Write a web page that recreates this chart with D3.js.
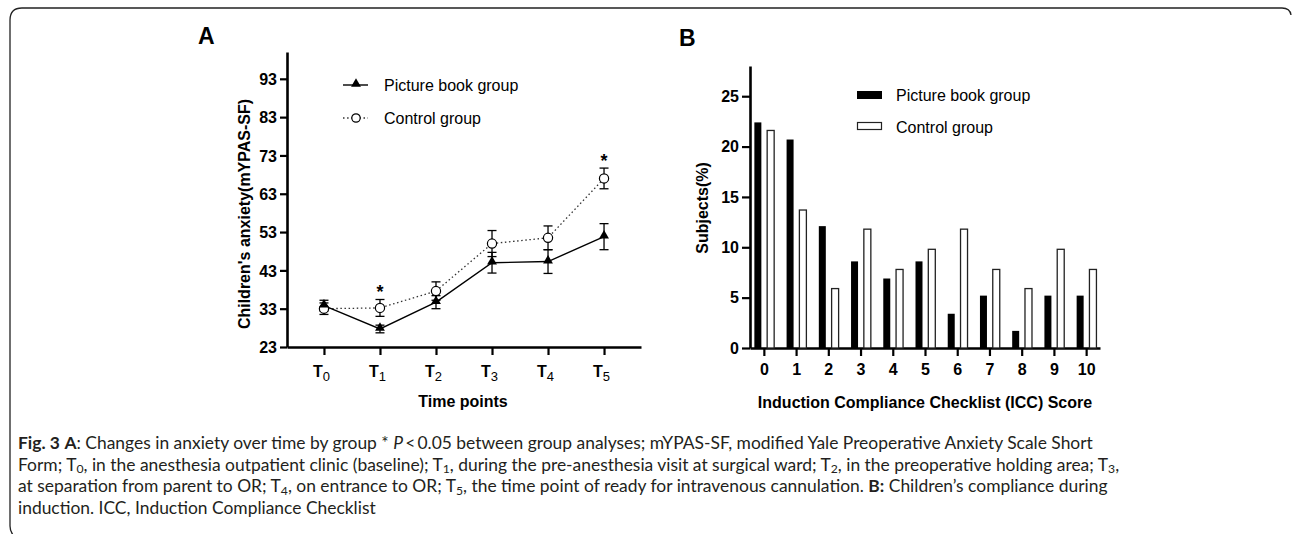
<!DOCTYPE html>
<html>
<head>
<meta charset="utf-8">
<script src="https://cdn.jsdelivr.net/npm/d3@7"></script>
<style>
  body { margin: 0; background: #fff; }
  svg text { font-family: "Liberation Sans", Arial, sans-serif; }
  .axis path, .axis line { stroke: #000; }
  .cap { font-family: Lato, "Open Sans", sans-serif !important; fill: #231f20; }
</style>
</head>
<body>
<div id="chart"></div>
<script>
var width = 1292;
var height = 534;

// ---- panel A data (mean and error per time point)
var timePoints = ["0", "1", "2", "3", "4", "5"];
var bookMean = [33.8, 27.7, 34.7, 45.0, 45.3, 51.8];
var bookErr  = [1.4, 1.0, 1.7, 2.7, 3.1, 3.4];
var ctrlMean = [33.0, 33.2, 37.6, 50.0, 51.5, 67.0];
var ctrlErr  = [1.5, 2.2, 2.4, 3.4, 3.1, 2.7];
var sigPoints = [1, 5];
var yTicksA = [23, 33, 43, 53, 63, 73, 83, 93];

// ---- panel B data (% of subjects per ICC score)
var iccScores = ["0", "1", "2", "3", "4", "5", "6", "7", "8", "9", "10"];
var bookPct = [22.4, 20.7, 12.1, 8.6, 6.9, 8.6, 3.4, 5.2, 1.7, 5.2, 5.2];
var ctrlPct = [21.6, 13.7, 5.9, 11.8, 7.8, 9.8, 11.8, 7.8, 5.9, 9.8, 7.8];
var yTicksB = [0, 5, 10, 15, 20, 25];

var legendNames = ["Picture book group", "Control group"];

var svg = d3.select("#chart")
            .append("svg")
            .attr("width", width)
            .attr("height", height);

// frame around figure
svg.append("path")
   .attr("d", "M1291,15 Q1290,8 1282,8 L22,8 Q10,8 10,20 L10,526 Q10,532 14,536")
   .attr("fill", "none")
   .attr("stroke", "#222")
   .attr("stroke-width", 1.3);

// ================= panel A =================
var gA = svg.append("g");

var xA = d3.scalePoint().domain(timePoints).range([287, 641]).padding(0.66);
var yA = d3.scaleLinear().domain([23, 100]).range([347, 52]);

gA.append("text").attr("x", 198).attr("y", 44)
  .attr("font-size", 23).attr("font-weight", "bold").text("A");

var axYA = gA.append("g").attr("class", "axis")
  .attr("transform", "translate(287,0)")
  .call(d3.axisLeft(yA).tickValues(yTicksA).tickSize(7).tickSizeOuter(0).tickPadding(3));
var axXA = gA.append("g").attr("class", "axis")
  .attr("transform", "translate(0,347)")
  .call(d3.axisBottom(xA).tickSize(8).tickSizeOuter(0).tickPadding(10));

[axYA, axXA].forEach(function(ax){
  ax.select(".domain").attr("stroke-width", 2.6);
  ax.selectAll(".tick line").attr("stroke-width", 2.2);
  ax.selectAll(".tick text").attr("font-size", 16).attr("font-weight", "bold")
    .attr("fill", "#000").attr("font-family", "Liberation Sans, Arial");
});
axYA.selectAll(".tick text").attr("dy", "0.36em");

// T with subscript on x ticks
axXA.selectAll(".tick text").each(function(d){
  var t = d3.select(this);
  t.text("").attr("dy", null).attr("y", 30).attr("dx", "-3");
  t.append("tspan").text("T");
  t.append("tspan").attr("dy", 4).attr("font-size", 13).attr("font-weight", "normal").text(d);
});

gA.append("text")
  .attr("transform", "translate(250,214) rotate(-90)")
  .attr("text-anchor", "middle")
  .attr("font-size", 16).attr("font-weight", "bold")
  .text("Children's anxiety(mYPAS-SF)");

gA.append("text").attr("x", 463).attr("y", 407)
  .attr("text-anchor", "middle").attr("font-size", 16).attr("font-weight", "bold")
  .text("Time points");

var line = d3.line()
  .x(function(d, i){ return xA(timePoints[i]); })
  .y(function(d){ return yA(d); });

// error bars
function errBars(means, errs){
  var g = gA.append("g").attr("stroke", "#000").attr("stroke-width", 1.3);
  means.forEach(function(m, i){
    var x = xA(timePoints[i]);
    var y1 = yA(m + errs[i]), y2 = yA(m - errs[i]);
    g.append("line").attr("x1", x).attr("x2", x).attr("y1", y1).attr("y2", y2);
    g.append("line").attr("x1", x - 4.5).attr("x2", x + 4.5).attr("y1", y1).attr("y2", y1);
    g.append("line").attr("x1", x - 4.5).attr("x2", x + 4.5).attr("y1", y2).attr("y2", y2);
  });
}
errBars(ctrlMean, ctrlErr);
errBars(bookMean, bookErr);

gA.append("path").datum(ctrlMean)
  .attr("d", line).attr("fill", "none")
  .attr("stroke", "#333").attr("stroke-width", 1.3).attr("stroke-dasharray", "1.5,2.6");
gA.append("path").datum(bookMean)
  .attr("d", line).attr("fill", "none")
  .attr("stroke", "#000").attr("stroke-width", 1.4);

var tri = d3.symbol().type(d3.symbolTriangle).size(42);

gA.selectAll(".ctrlPt").data(ctrlMean).enter()
  .append("circle")
  .attr("cx", function(d, i){ return xA(timePoints[i]); })
  .attr("cy", function(d){ return yA(d); })
  .attr("r", 4.6).attr("fill", "#fff").attr("stroke", "#000").attr("stroke-width", 1.2);

gA.selectAll(".bookPt").data(bookMean).enter()
  .append("path")
  .attr("d", tri)
  .attr("transform", function(d, i){ return "translate(" + xA(timePoints[i]) + "," + (yA(d) - 1) + ")"; })
  .attr("fill", "#000");

sigPoints.forEach(function(i){
  gA.append("text")
    .attr("x", xA(timePoints[i])).attr("y", yA(ctrlMean[i] + ctrlErr[i]) - 1)
    .attr("text-anchor", "middle").attr("font-size", 18).attr("font-weight", "bold")
    .text("*");
});

// legend A
var legA = gA.append("g");
legA.append("line").attr("x1", 343).attr("x2", 368).attr("y1", 85).attr("y2", 85)
  .attr("stroke", "#000").attr("stroke-width", 1.4);
legA.append("path").attr("d", tri).attr("transform", "translate(356,84)");
legA.append("line").attr("x1", 343).attr("x2", 368).attr("y1", 118).attr("y2", 118)
  .attr("stroke", "#333").attr("stroke-width", 1.3).attr("stroke-dasharray", "1.5,2.6");
legA.append("circle").attr("cx", 356).attr("cy", 118).attr("r", 4.2)
  .attr("fill", "#fff").attr("stroke", "#000").attr("stroke-width", 1.2);
legendNames.forEach(function(n, i){
  legA.append("text").attr("x", 384).attr("y", 91 + i * 33)
    .attr("font-size", 16).text(n);
});

// ================= panel B =================
var gB = svg.append("g");

var xB = d3.scalePoint().domain(iccScores).range([750, 1100]).padding(0.43);
var yB = d3.scaleLinear().domain([0, 28]).range([348, 66]);

gB.append("text").attr("x", 679).attr("y", 46)
  .attr("font-size", 23).attr("font-weight", "bold").text("B");

var axYB = gB.append("g").attr("class", "axis")
  .attr("transform", "translate(750,0)")
  .call(d3.axisLeft(yB).tickValues(yTicksB).tickSize(8).tickSizeOuter(0).tickPadding(3));
var axXB = gB.append("g").attr("class", "axis")
  .attr("transform", "translate(0,348)")
  .call(d3.axisBottom(xB).tickSize(8).tickSizeOuter(0).tickPadding(8));

[axYB, axXB].forEach(function(ax){
  ax.select(".domain").attr("stroke-width", 2.6);
  ax.selectAll(".tick line").attr("stroke-width", 2.2);
  ax.selectAll(".tick text").attr("font-size", 16).attr("font-weight", "bold")
    .attr("fill", "#000").attr("font-family", "Liberation Sans, Arial");
});

gB.append("text")
  .attr("transform", "translate(708,208) rotate(-90)")
  .attr("text-anchor", "middle")
  .attr("font-size", 16).attr("font-weight", "bold")
  .text("Subjects(%)");

gB.append("text").attr("x", 925).attr("y", 408)
  .attr("text-anchor", "middle").attr("font-size", 16).attr("font-weight", "bold")
  .text("Induction Compliance Checklist (ICC) Score");

var barW = 7;
gB.selectAll(".bookBar").data(bookPct).enter()
  .append("rect")
  .attr("x", function(d, i){ return xB(iccScores[i]) - 9.5; })
  .attr("y", function(d){ return yB(d); })
  .attr("width", barW)
  .attr("height", function(d){ return yB(0) - yB(d); })
  .attr("fill", "#000");

gB.selectAll(".ctrlBar").data(ctrlPct).enter()
  .append("rect")
  .attr("x", function(d, i){ return xB(iccScores[i]) + 3.3; })
  .attr("y", function(d){ return yB(d); })
  .attr("width", barW)
  .attr("height", function(d){ return yB(0) - yB(d); })
  .attr("fill", "#fff").attr("stroke", "#222").attr("stroke-width", 1.3);

// legend B
gB.append("rect").attr("x", 857).attr("y", 91).attr("width", 25).attr("height", 8).attr("fill", "#000");
gB.append("rect").attr("x", 857.5).attr("y", 122.5).attr("width", 24).attr("height", 7)
  .attr("fill", "#fff").attr("stroke", "#222").attr("stroke-width", 1.2);
legendNames.forEach(function(n, i){
  gB.append("text").attr("x", 896).attr("y", 101 + i * 32)
    .attr("font-size", 16).text(n);
});

// ================= caption =================
var capLines = [
  { y: 449, len: 1092, parts: [
    {t: "Fig. 3", b: 1}, {t: "  "}, {t: "A", b: 1},
    {t: ": Changes in anxiety over time by group * "}, {t: "P", i: 1},
    {t: "\u2009<\u20090.05 between group analyses; mYPAS-SF, modified Yale Preoperative Anxiety Scale Short"}]},
  { y: 470.5, len: 1102, parts: [
    {t: "Form; T"}, {t: "0", s: 1}, {t: ", in the anesthesia outpatient clinic (baseline); T"}, {t: "1", s: 1},
    {t: ", during the pre-anesthesia visit at surgical ward; T"}, {t: "2", s: 1},
    {t: ", in the preoperative holding area; T"}, {t: "3", s: 1}, {t: ","}]},
  { y: 492, len: 1092, parts: [
    {t: "at separation from parent to OR; T"}, {t: "4", s: 1}, {t: ", on entrance to OR; T"}, {t: "5", s: 1},
    {t: ", the time point of ready for intravenous cannulation. "}, {t: "B:", b: 1},
    {t: " Children\u2019s compliance during"}]},
  { y: 513.5, len: 323, parts: [
    {t: "induction. ICC, Induction Compliance Checklist"}]}
];

// one font size for the caption, fitted so the full lines keep their width
var base = 18;
var capTexts = capLines.map(function(l){
  var t = svg.append("text").attr("class", "cap")
    .attr("x", 18).attr("y", l.y).attr("font-size", base);
  var sub = false;
  l.parts.forEach(function(p){
    var s = t.append("tspan").text(p.t);
    if (p.b) s.attr("font-weight", "bold");
    if (p.i) s.attr("font-style", "italic");
    if (p.s) { s.attr("dy", "0.22em").attr("font-size", "0.7em"); sub = true; }
    else if (sub) { s.attr("dy", "-0.154em"); sub = false; }
  });
  return t;
});
var fs = d3.min(capLines.slice(0, 3), function(l, i){
  return base * l.len / capTexts[i].node().getComputedTextLength();
});
capTexts.forEach(function(t){ t.attr("font-size", Math.min(19, fs)); });
</script>
</body>
</html>
